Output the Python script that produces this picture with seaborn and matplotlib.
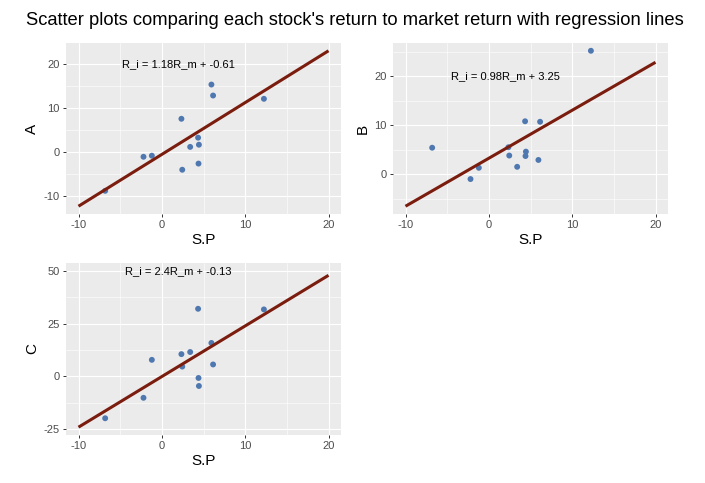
import numpy as np
import pandas as pd
import matplotlib
matplotlib.use("Agg")
import matplotlib.pyplot as plt
import seaborn as sns
from matplotlib.ticker import MultipleLocator

# ---- data ----
sp = [-6.8, -2.2, -1.2, 2.35, 2.45, 3.4, 4.35, 4.4, 4.45, 5.95, 6.15, 12.25]
ret_a = [-8.9, -1.15, -0.9, 7.5, -4.1, 1.1, 3.2, -2.7, 1.6, 15.3, 12.8, 12.05]
ret_b = [5.4, -1.0, 1.3, 5.5, 3.8, 1.5, 10.8, 3.7, 4.6, 2.9, 10.7, 25.2]
ret_c = [-19.9, -10.2, 7.8, 10.5, 4.6, 11.5, 32.0, -0.8, -4.6, 15.8, 5.6, 31.7]

stocks = ["A", "B", "C"]
slopes = [1.18, 0.98, 2.4]
intercepts = [-0.61, 3.25, -0.13]
line_range = [-10, 20]
label_x = 2
label_y = [20, 20, 50]
x_ticks = [-10, 0, 10, 20]
y_major = [10, 10, 25]

title = "Scatter plots comparing each stock's return to market return with regression lines"

df = pd.DataFrame({"S.P": sp, "A": ret_a, "B": ret_b, "C": ret_c})

sns.set_theme(style="darkgrid")
plt.rcParams["font.family"] = ["Liberation Sans", "DejaVu Sans"]
plt.rcParams["axes.unicode_minus"] = False

fig = plt.figure(figsize=(7.05, 4.83), dpi=100)
W, H = 705, 483
boxes = [(66, 43, 341, 214), (393, 43, 668, 214), (66, 263, 341, 435)]

point_color = "#4F78B0"
line_color = "#7B1D0E"

for i, name in enumerate(stocks):
    l, t, r, b = boxes[i]
    ax = fig.add_axes([l / W, 1 - b / H, (r - l) / W, (b - t) / H])
    ax.set_facecolor("#EBEBEB")
    lx = np.array(line_range, dtype=float)
    ly = slopes[i] * lx + intercepts[i]
    line_df = pd.DataFrame({"x": lx, "y": ly})
    sns.scatterplot(data=df, x="S.P", y=name, ax=ax, color=point_color, s=18,
                    edgecolor="none", zorder=3)
    sns.lineplot(data=line_df, x="x", y="y", ax=ax, color=line_color, lw=2.2,
                 zorder=4, solid_capstyle="butt")
    ax.text(label_x, label_y[i], f"R_i = {slopes[i]:g}R_m + {intercepts[i]:g}",
            ha="center", va="center", fontsize=8, color="black", zorder=5)

    # limits like ggplot (5% expansion of data range)
    xs = np.concatenate([df["S.P"].values, lx, [label_x]])
    ys = np.concatenate([df[name].values, ly, [label_y[i]]])
    xr = xs.max() - xs.min()
    yr = ys.max() - ys.min()
    ax.set_xlim(xs.min() - 0.05 * xr, xs.max() + 0.05 * xr)
    ax.set_ylim(ys.min() - 0.05 * yr, ys.max() + 0.05 * yr)

    ax.set_xticks(x_ticks)
    ax.xaxis.set_minor_locator(MultipleLocator(5))
    ax.yaxis.set_major_locator(MultipleLocator(y_major[i]))
    ax.yaxis.set_minor_locator(MultipleLocator(y_major[i] / 2))
    ax.grid(which="major", color="white", lw=0.8)
    ax.grid(which="minor", color="white", lw=0.4)
    ax.set_axisbelow(True)
    for s in ax.spines.values():
        s.set_visible(False)
    ax.tick_params(which="major", length=2.5, width=0.7, color="#333333",
                   labelsize=8, labelcolor="#4D4D4D", pad=2, bottom=True, left=True)
    ax.tick_params(which="minor", length=0)
    ax.set_xlabel("S.P", fontsize=11, labelpad=2, color="black")
    ax.set_ylabel(name, fontsize=11, labelpad=3, color="black")

fig.text(26 / W, 1 - 25 / H, title, ha="left", va="baseline", fontsize=13.2, color="black")

fig.savefig("out.png", dpi=100)
